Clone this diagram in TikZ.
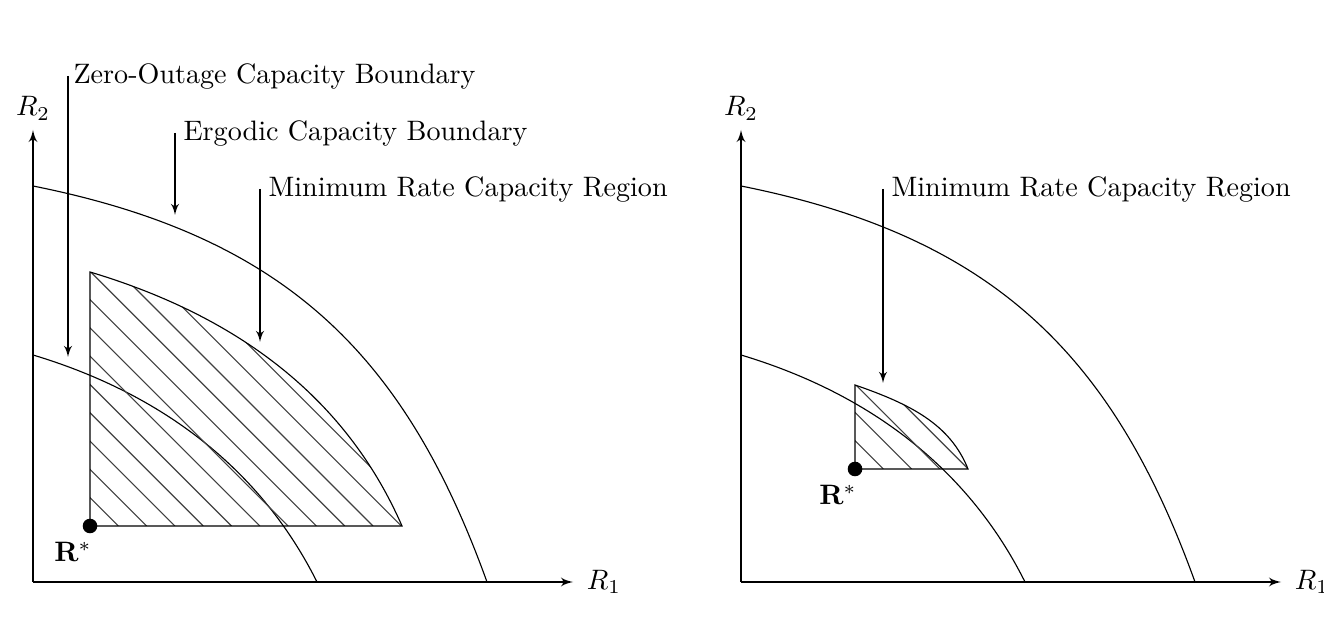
\documentclass[tikz,border=0pt]{standalone}
\usepackage{tikz}
\usetikzlibrary{arrows,positioning}

\begin{document}
\begin{tikzpicture}[x=1.25cm, y=1.25cm]
  \tikzstyle{ax} = [draw, -{latex'[scale=1.4]}, line width=0.5pt]
  \tikzstyle{bnd} = [draw, thin]
  \tikzstyle{ptr} = [draw, -{latex'[scale=1.3]}, thin]
  \tikzstyle{lbl} = [anchor=west, inner sep=0pt]
  \tikzstyle{hatch} = [draw=black!75, thin]

  \useasboundingbox (0,0) rectangle (13.24,6.40);

  % left panel
  \begin{scope}[shift={(0.33,0.58)}]
    \coordinate (o1) at (0,0);
    \coordinate (x1) at (5.40,0);
    \coordinate (y1) at (0,4.52);
    \draw[ax] (o1) -- (x1);
    \draw[ax] (o1) -- (y1);
    \node[right=0.5mm of x1] (ra1) {$R_1$};
    \node[above=0pt of y1] (rb1) {$R_2$};

    % ergodic and zero-outage boundaries
    \draw[bnd] (0,3.96) .. controls (2.50,3.46) and (3.71,2.30) .. (4.54,0);
    \draw[bnd] (0,2.27) .. controls (1.20,1.91) and (2.24,1.20) .. (2.84,0);

    % minimum rate region
    \coordinate (rs1) at (0.57,0.56);
    \coordinate (top1) at (0.57,3.10);
    \coordinate (end1) at (3.69,0.56);
    \begin{scope}
      \clip (rs1) -- (top1) .. controls (2.17,2.62) and (3.17,1.75) .. (end1) -- cycle;
      \foreach \k in {1,...,14}
        \draw[hatch] (rs1) ++(\k*0.283,0) -- ++(-4,4);
    \end{scope}
    \draw[bnd] (rs1) -- (top1) .. controls (2.17,2.62) and (3.17,1.75) .. (end1) -- cycle;
    \fill (rs1) circle (0.073);
    \node (rsl1) at ([shift={(-0.17,-0.26)}]rs1) {$\mathbf{R}^*$};

    \node[lbl] (zo) at (0.40,5.06) {Zero-Outage Capacity Boundary};
    \coordinate (zotip) at (0.35,2.25);
    \draw[ptr] (zotip |- zo.west) -- (zotip);
    \node[lbl] (eg) at (1.50,4.49) {Ergodic Capacity Boundary};
    \coordinate (egtip) at (1.42,3.67);
    \draw[ptr] (egtip |- eg.west) -- (egtip);
    \node[lbl] (mr1) at (2.35,3.93) {Minimum Rate Capacity Region};
    \coordinate (mrtip1) at (2.27,2.40);
    \draw[ptr] (mrtip1 |- mr1.west) -- (mrtip1);
  \end{scope}

  % right panel
  \begin{scope}[shift={(7.41,0.58)}]
    \coordinate (o2) at (0,0);
    \coordinate (x2) at (5.40,0);
    \coordinate (y2) at (0,4.52);
    \draw[ax] (o2) -- (x2);
    \draw[ax] (o2) -- (y2);
    \node[right=0.5mm of x2] (ra2) {$R_1$};
    \node[above=0pt of y2] (rb2) {$R_2$};

    \draw[bnd] (0,3.96) .. controls (2.50,3.46) and (3.71,2.30) .. (4.54,0);
    \draw[bnd] (0,2.27) .. controls (1.20,1.91) and (2.24,1.20) .. (2.84,0);

    \coordinate (rs2) at (1.14,1.13);
    \coordinate (top2) at (1.14,1.97);
    \coordinate (end2) at (2.27,1.13);
    \begin{scope}
      \clip (rs2) -- (top2) .. controls (1.69,1.78) and (2.09,1.58) .. (end2) -- cycle;
      \foreach \k in {1,...,6}
        \draw[hatch] (rs2) ++(\k*0.283,0) -- ++(-3,3);
    \end{scope}
    \draw[bnd] (rs2) -- (top2) .. controls (1.69,1.78) and (2.09,1.58) .. (end2) -- cycle;
    \fill (rs2) circle (0.073);
    \node (rsl2) at ([shift={(-0.17,-0.26)}]rs2) {$\mathbf{R}^*$};

    \node[lbl] (mr2) at (1.50,3.93) {Minimum Rate Capacity Region};
    \coordinate (mrtip2) at (1.42,1.99);
    \draw[ptr] (mrtip2 |- mr2.west) -- (mrtip2);
  \end{scope}
\end{tikzpicture}
\end{document}
